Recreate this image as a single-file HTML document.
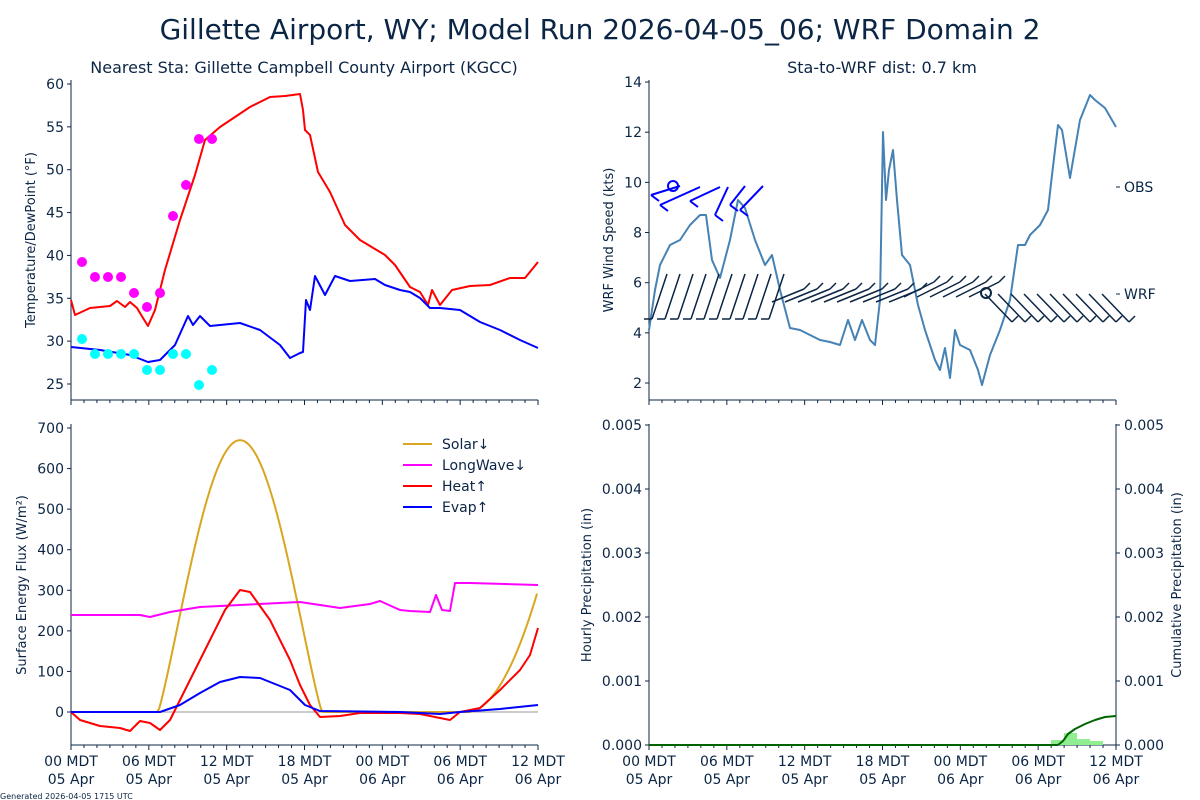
<!DOCTYPE html>
<html><head><meta charset="utf-8"><style>
body{margin:0;background:#fff}
svg{display:block;font-family:"DejaVu Sans","Liberation Sans",sans-serif;fill:#0b2545}
</style></head><body>
<svg id="s" width="1200" height="800" viewBox="0 0 1200 800" xmlns="http://www.w3.org/2000/svg">
<text x="600" y="39" font-size="28" text-anchor="middle">Gillette  Airport, WY; Model Run 2026-04-05_06; WRF Domain 2</text>
<text x="304" y="73" font-size="16" text-anchor="middle">Nearest Sta: Gillette Campbell County Airport (KGCC)</text>
<text x="882" y="73" font-size="16" text-anchor="middle">Sta-to-WRF dist: 0.7 km</text>
<text x="0" y="799" font-size="8">Generated 2026-04-05 1715 UTC</text>
<text transform="translate(35,240) rotate(-90)" font-size="13" text-anchor="middle">Temperature/DewPoint (°F)</text>
<text transform="translate(613,240) rotate(-90)" font-size="13" text-anchor="middle">WRF Wind Speed (kts)</text>
<text transform="translate(26,585) rotate(-90)" font-size="13" text-anchor="middle">Surface Energy Flux (W/m²)</text>
<text transform="translate(591,585) rotate(-90)" font-size="13" text-anchor="middle">Hourly Precipitation (in)</text>
<text transform="translate(1181,585) rotate(-90)" font-size="13" text-anchor="middle">Cumulative Precipitation (in)</text>
<g id="g"></g>
</svg>
<script>
var g=document.getElementById('g'),NS='http://www.w3.org/2000/svg';
function el(t,a,txt){var e=document.createElementNS(NS,t);for(var k in a)e.setAttribute(k,a[k]);if(txt!=null)e.textContent=txt;g.appendChild(e);return e;}
function line(x1,y1,x2,y2,c,w){el('line',{x1:x1,y1:y1,x2:x2,y2:y2,stroke:c||'#0b2545','stroke-width':w||1});}
function pl(pts,c,w){el('polyline',{points:pts,fill:'none',stroke:c,'stroke-width':w||2,'stroke-linejoin':'round'});}
var C='#0b2545';
function xaxis(x0,x1,yb,yt,labels){
 line(x0,yb,x1,yb);line(x0,yt,x0,yb);
 var dx=(x1-x0)/36;
 for(var h=0;h<=36;h++){var x=x0+h*dx;line(x,yb,x,yb+(h%6?3:5));}
 if(labels){var L=[['00 MDT','05 Apr'],['06 MDT','05 Apr'],['12 MDT','05 Apr'],['18 MDT','05 Apr'],['00 MDT','06 Apr'],['06 MDT','06 Apr'],['12 MDT','06 Apr']];
 for(var i=0;i<7;i++){var x=x0+i*6*dx;el('text',{x:x,y:yb+21,'font-size':14,'text-anchor':'middle'},L[i][0]);el('text',{x:x,y:yb+39,'font-size':14,'text-anchor':'middle'},L[i][1]);}}
}
function ytick(x,y,lab,right){if(right){line(x,y,x+4,y);el('text',{x:x+8,y:y+5,'font-size':14},lab);}else{line(x-4,y,x,y);el('text',{x:x-7,y:y+5,'font-size':14,'text-anchor':'end'},lab);}}
// Top-left
xaxis(71,538,400,80,false);
for(var v=25;v<=60;v+=5)ytick(71,84+(60-v)*8.571,v);
pl("71,300 75,315 90,308 110,306 117,301 125,307 130,302 137,308 143,318 148,326 155,310 165,270 180,220 195,175 205,140 220,127 250,107 270,97 285,96 300,94 303,110 305,130 310,135 318,172 330,192 345,225 360,240 370,246 385,255 395,265 410,287 420,292 428,305 432,290 440,305 452,290 470,286 490,285 510,278 525,278 538,262","#f00",2);
pl("71,347 100,350 130,355 148,362 160,360 175,345 188,316 193,325 200,316 210,326 240,323 260,330 280,345 290,358 300,353 303,352 306,300 310,310 315,276 325,295 335,276 350,281 375,279 385,285 400,290 410,292 420,298 430,308 440,308 460,310 480,322 500,330 520,340 538,348","#00f",2);
[[82,262],[95,277],[108,277],[121,277],[134,293],[147,307],[160,293],[173,216],[186,185],[199,139],[212,139]].forEach(function(p){el('circle',{cx:p[0],cy:p[1],r:5,fill:'#f0f'});});
[[82,339],[95,354],[108,354],[121,354],[134,354],[147,370],[160,370],[173,354],[186,354],[199,385],[212,370]].forEach(function(p){el('circle',{cx:p[0],cy:p[1],r:5,fill:'#0ff'});});
// Top-right
xaxis(649,1116,400,80,false);
for(var v=2;v<=14;v+=2)ytick(649,383-(v-2)*25.08,v);
ytick(1116,187,'OBS',true);ytick(1116,294,'WRF',true);
pl("649,330 655,290 660,265 670,245 680,240 690,225 700,215 706,215 712,260 720,278 730,240 738,200 745,208 755,240 765,265 772,255 780,290 790,328 800,330 810,335 820,340 830,342 840,345 848,320 855,340 862,320 870,340 875,345 880,300 883,132 886,200 889,170 893,150 897,200 902,255 910,265 918,305 925,330 935,360 940,370 945,348 950,378 955,330 960,345 970,350 978,370 982,385 990,355 1000,330 1010,300 1018,245 1025,245 1030,235 1040,225 1048,210 1052,175 1058,125 1062,130 1070,178 1080,120 1090,95 1095,100 1105,108 1116,127","steelblue",2);
// WRF barbs
for(var i=0;i<36;i++){var x=652+i*13,y=294;var a;
 if(i<10)a=[x+15,y-20,x,y+25];else if(i<20)a=[x-10,y+8,x+22,y-5];else if(i<26)a=[x-8,y+3,x+22,y-12];else a=[x-5,y,x+22,y+28];
 line(a[0],a[1],a[2],a[3],C,1.5);line(a[2],a[3],a[2]+(i<10?-8:6),a[3]+(i<10?0:-6),C,1.5);}
// OBS barbs
[[651,195,680,186],[660,205,700,187],[690,201,720,187],[715,215,728,187],[730,205,745,186],[740,210,763,186]].forEach(function(b){line(b[0],b[1],b[2],b[3],'#00f',2);line(b[0],b[1],b[0]+8,b[1]+6,'#00f',2);});
el('circle',{cx:673,cy:186,r:5,fill:'none',stroke:'#00f','stroke-width':2});
el('circle',{cx:986,cy:293,r:5,fill:'none',stroke:C,'stroke-width':2});
// Bottom-left
xaxis(71,538,745,424,true);
for(var v=0;v<=700;v+=100)ytick(71,712-v*0.4057,v);
line(71,712,538,712,'#999',1);
var sol=[];for(var x=71;x<=538;x+=2){var v=0;if(x>158&&x<322){v=670*Math.pow(Math.sin(Math.PI*(x-158)/164),1.15);}else if(x>470){var t=(x-470)/68;v=300*t*t*0.9+30*t;} sol.push(x+','+(712-v*0.4057).toFixed(1));}
pl(sol.join(' '),'goldenrod',2);
pl("71,615 140,615 150,617 170,612 200,607 240,605 300,602 340,608 370,604 380,601 400,610 410,611 430,612 436,595 442,610 450,611 455,583 470,583 538,585","#f0f",2);
pl("71,712 80,720 100,726 120,728 130,731 140,721 150,723 160,730 170,720 190,680 210,640 225,610 240,590 250,592 270,620 290,660 300,685 310,705 320,717 340,716 360,713 400,713 420,714 440,718 450,720 460,712 480,708 500,690 520,670 530,655 538,628","#f00",2);
pl("71,712 160,712 180,705 200,693 220,682 240,677 260,678 290,690 305,705 320,711 400,712 440,714 460,712 500,709 538,705","#00f",2);
[['Solar↓','goldenrod',444],['LongWave↓','#f0f',465],['Heat↑','#f00',486],['Evap↑','#00f',507]].forEach(function(l){line(403,l[2],432,l[2],l[1],2);el('text',{x:442,y:l[2]+5,'font-size':14},l[0]);});
// Bottom-right
xaxis(649,1116,745,424,true);line(1116,424,1116,745);
for(var i=0;i<=5;i++){var y=745-i*64;var lab=(i*0.001).toFixed(3);ytick(649,y,lab);ytick(1116,y,lab,true);}
el('rect',{x:1051,y:740,width:13,height:5,fill:'#90ee90'});el('rect',{x:1064,y:733,width:13,height:12,fill:'#90ee90'});el('rect',{x:1077,y:739,width:13,height:6,fill:'#90ee90'});el('rect',{x:1090,y:741,width:13,height:4,fill:'#90ee90'});
pl("649,745 1058,745 1063,741 1068,734 1075,729 1085,724 1095,720 1105,717 1116,716","#006400",2);
</script>
</body></html>
